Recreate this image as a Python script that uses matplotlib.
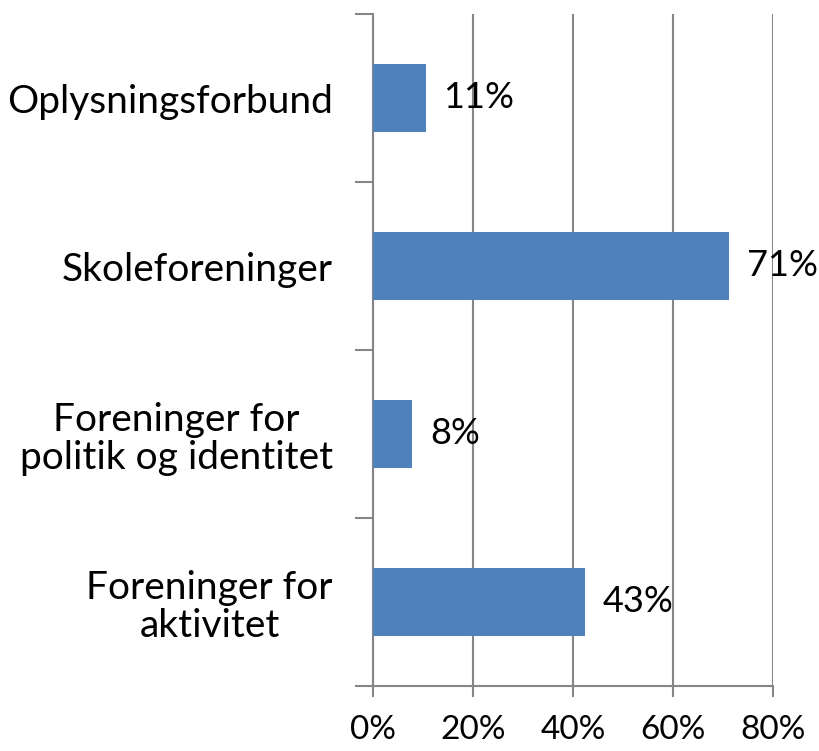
import numpy as np
import matplotlib.pyplot as plt
from matplotlib.ticker import FixedLocator

plt.rcParams['font.family'] = ['Lato', 'DejaVu Sans']

categories = ['Oplysningsforbund', 'Skoleforeninger',
              'Foreninger for\npolitik og identitet', 'Foreninger for\naktivitet']
values = [10.5, 71.2, 7.8, 42.3]
labels = ['11%', '71%', '8%', '43%']
xticks = [0, 20, 40, 60, 80]

grey = '#868686'

fig = plt.figure(figsize=(8.19, 7.51), dpi=100)
ax = fig.add_axes([373/819, 65/751, 400/819, 672/751])

y = np.arange(len(categories))[::-1]
ax.barh(y, values, height=0.4, color='#4F81BD', zorder=3)
for yi, v, lab in zip(y, values, labels):
    ax.text(v + 3.6, yi, lab, va='center', ha='left', fontsize=26, zorder=4)

ax.set_xlim(0, 80)
ax.set_ylim(-0.5, len(categories) - 0.5)
ax.set_xticks(xticks)
ax.set_xticklabels([f'{t}%' for t in xticks], fontsize=24)
ax.set_yticks(y)
ax.set_yticklabels(categories, fontsize=28, ha='right', multialignment='center',
                   linespacing=1.1)
ax.yaxis.set_minor_locator(FixedLocator(np.arange(-0.5, len(categories), 1)))
ax.tick_params(axis='y', which='major', length=0, pad=29)
ax.tick_params(axis='y', which='minor', length=13, width=1.5, color=grey)
ax.tick_params(axis='x', length=8, width=1.5, color=grey, pad=13)
ax.grid(axis='x', color=grey, linewidth=1.5, zorder=0)

for s in ['top', 'right']:
    ax.spines[s].set_visible(False)
for s in ['left', 'bottom']:
    ax.spines[s].set_color(grey)
    ax.spines[s].set_linewidth(1.5)

fig.savefig('out.png', dpi=100)
